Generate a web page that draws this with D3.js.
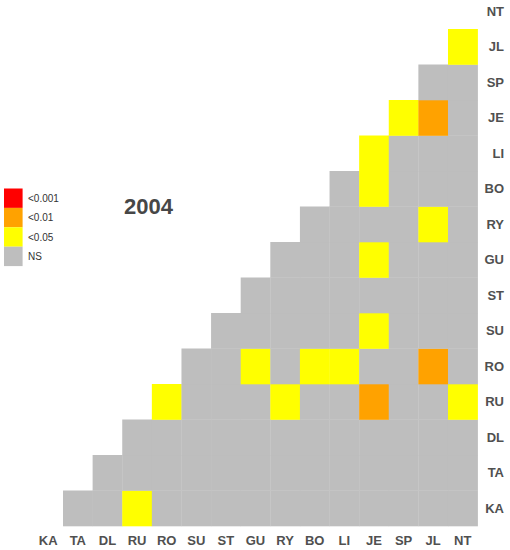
<!DOCTYPE html>
<html lang="en">
<head>
    <meta charset="UTF-8">
    <title>2004 pairwise significance</title>
    <script src="https://d3js.org/d3.v7.min.js"></script>
    <style>
        body {
            margin: 0;
            background: #fff;
        }
        text {
            font-family: "Liberation Sans", Arial, sans-serif;
        }
        .axis text {
            font-size: 13px;
            font-weight: bold;
            fill: #505050;
        }
        .legend text {
            font-size: 10px;
            fill: #333;
        }
    </style>
</head>
<body>
    <script>
        // site labels, in column order (left to right); rows run the other way (top = NT)
        const sites = ["KA", "TA", "DL", "RU", "RO", "SU", "ST", "GU", "RY", "BO", "LI", "JE", "SP", "JL", "NT"];

        // one string per row site, one character per column site:
        // "-" no cell, "n" NS, "y" <0.05, "o" <0.01, "r" <0.001
        const rowCodes = {
            KA: "-nnynnnnnnnnnnn",
            TA: "--nnnnnnnnnnnnn",
            DL: "---nnnnnnnnnnnn",
            RU: "----ynnnynnonny",
            RO: "-----nnynyynnon",
            SU: "------nnnnnynnn",
            ST: "-------nnnnnnnn",
            GU: "--------nnnynnn",
            RY: "---------nnnnyn",
            BO: "----------nynnn",
            LI: "-----------ynnn",
            JE: "------------yon",
            SP: "-------------nn",
            JL: "--------------y",
            NT: "---------------"
        };

        const levelCodes = ["r", "o", "y", "n"];
        const levelNames = ["<0.001", "<0.01", "<0.05", "NS"];
        const levelColors = ["#ff0000", "#ffa200", "#ffff00", "#bebebe"];
        const yearLabel = "2004";

        const width = 510;
        const height = 550;

        const svg = d3.select("body").append("svg")
            .attr("width", width)
            .attr("height", height);

        const x = d3.scaleBand()
            .domain(sites)
            .range([33.4, 477.6]);

        const y = d3.scaleBand()
            .domain(sites.slice().reverse())
            .range([-6.5, 526]);

        const color = d3.scaleOrdinal()
            .domain(levelCodes)
            .range(levelColors);

        // flatten the row strings into cells
        const cells = [];
        sites.forEach(row => {
            rowCodes[row].split("").forEach((code, i) => {
                if (code !== "-") cells.push({ row: row, col: sites[i], code: code });
            });
        });

        svg.append("g")
            .selectAll("rect")
            .data(cells)
            .enter().append("rect")
            .attr("x", d => x(d.col))
            .attr("y", d => y(d.row))
            .attr("width", x.bandwidth() + 0.3)
            .attr("height", y.bandwidth() + 0.3)
            .attr("fill", d => color(d.code));

        // column labels underneath
        const xAxis = svg.append("g")
            .attr("class", "axis")
            .attr("transform", "translate(0,532)")
            .call(d3.axisBottom(x).tickSize(0).tickPadding(0));
        xAxis.select(".domain").remove();
        xAxis.selectAll("text").attr("dy", "13px");

        // row labels on the right, right aligned
        const yAxis = svg.append("g")
            .attr("class", "axis")
            .attr("transform", "translate(504,0)")
            .call(d3.axisRight(y).tickSize(0).tickPadding(0));
        yAxis.select(".domain").remove();
        yAxis.selectAll("text")
            .attr("text-anchor", "end")
            .attr("x", 0)
            .attr("dy", "0.35em");

        // legend
        const legend = svg.append("g")
            .attr("class", "legend")
            .attr("transform", "translate(4,188.5)");

        legend.selectAll("rect")
            .data(levelCodes)
            .enter().append("rect")
            .attr("x", 0)
            .attr("y", (d, i) => i * 19.4)
            .attr("width", 18.6)
            .attr("height", 19.4)
            .attr("fill", d => color(d));

        legend.selectAll("text")
            .data(levelNames)
            .enter().append("text")
            .attr("x", 24)
            .attr("y", (d, i) => i * 19.4 + 13.3)
            .text(d => d);

        svg.append("text")
            .attr("x", 124)
            .attr("y", 214)
            .attr("font-size", "22px")
            .attr("font-weight", "bold")
            .attr("fill", "#474747")
            .text(yearLabel);
    </script>
</body>
</html>
